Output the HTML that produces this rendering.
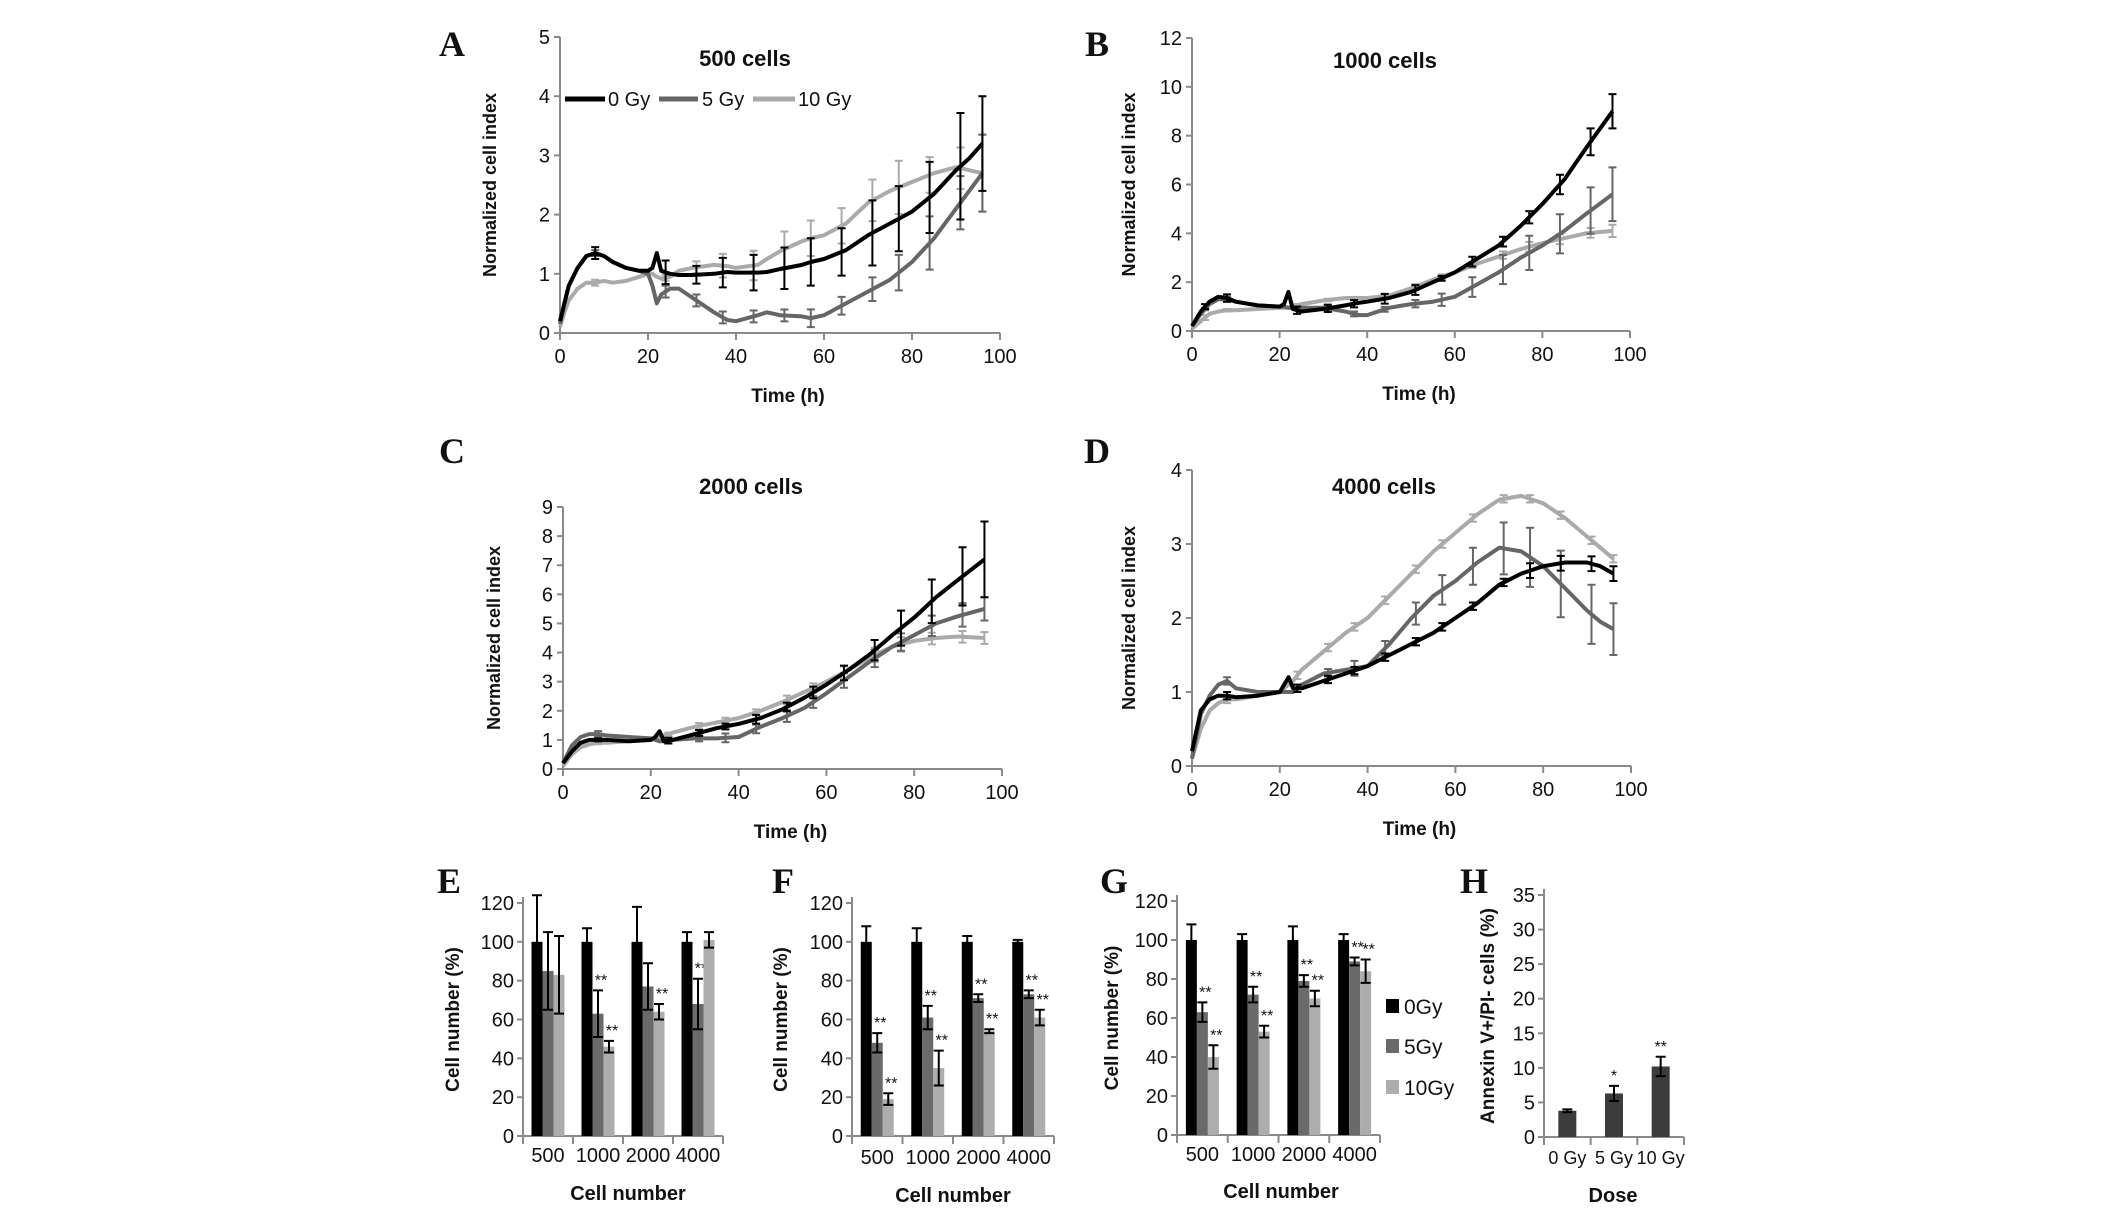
<!DOCTYPE html>
<html><head><meta charset="utf-8"><style>
html,body{margin:0;padding:0;background:#fff}
svg{display:block}
text{font-family:"Liberation Sans",sans-serif}
text.serif{font-family:"Liberation Serif",serif}
</style></head><body>
<svg id="fig" width="2126" height="1209" viewBox="0 0 2126 1209" xmlns="http://www.w3.org/2000/svg"></svg>
<script>
// ---------- data ----------
const seriesNames = ["0 Gy","5 Gy","10 Gy"];
const aTime = [0,1,2,4,6,8,10,12,15,18,20,21,22,23,25,27,30,35,38,40,45,47,50,55,57,60,65,70,75,80,85,90,93,96];
const a0 = [0.2,0.5,0.8,1.1,1.3,1.35,1.3,1.2,1.1,1.05,1.05,1.1,1.35,1.05,1.0,0.98,0.98,1.0,1.03,1.02,1.02,1.03,1.08,1.15,1.2,1.25,1.4,1.65,1.85,2.05,2.35,2.75,2.95,3.2];
const a5 = [0.15,0.5,0.8,1.1,1.3,1.35,1.3,1.2,1.1,1.05,1.0,0.8,0.5,0.65,0.75,0.75,0.6,0.35,0.22,0.2,0.3,0.35,0.3,0.28,0.25,0.3,0.5,0.7,0.9,1.2,1.6,2.1,2.4,2.7];
const a10 = [0.1,0.35,0.55,0.75,0.85,0.85,0.88,0.85,0.88,0.95,1.0,1.0,0.95,0.92,0.95,1.05,1.1,1.15,1.13,1.1,1.15,1.25,1.38,1.55,1.6,1.65,1.85,2.2,2.4,2.55,2.7,2.8,2.75,2.7];
const aErrT = [8,24,31,37,44,51,57,64,71,77,84,91,96];
const aErr0 = [0.1,0.2,0.15,0.25,0.3,0.35,0.4,0.4,0.55,0.55,0.6,0.9,0.8];
const aErr5 = [0.05,0.1,0.1,0.1,0.1,0.1,0.15,0.15,0.2,0.3,0.45,0.45,0.65];
const aErr10 = [0.05,0.05,0.1,0.2,0.25,0.3,0.3,0.3,0.35,0.45,0.3,0.35,0.65];

const bTime = [0,2,4,6,8,10,15,20,21,22,23,25,30,35,38,40,45,50,55,60,65,70,75,80,85,90,96];
const b0 = [0.2,0.8,1.2,1.4,1.35,1.2,1.05,1.0,1.1,1.6,0.9,0.8,0.9,1.05,1.15,1.2,1.35,1.6,2.0,2.4,2.95,3.5,4.3,5.2,6.2,7.5,9.0];
const b5 = [0.2,0.7,1.1,1.3,1.3,1.2,1.05,1.0,1.0,0.95,0.95,0.95,0.95,0.8,0.65,0.65,0.95,1.1,1.2,1.4,1.9,2.4,3.0,3.5,4.1,4.8,5.6];
const b10 = [0.1,0.4,0.7,0.8,0.85,0.85,0.9,0.95,0.95,0.95,1.0,1.1,1.25,1.35,1.35,1.35,1.45,1.75,2.1,2.4,2.75,3.05,3.35,3.6,3.8,4.0,4.1];
const bErrT = [3,8,24,31,37,44,51,57,64,71,77,84,91,96];
const bErr0 = [0.1,0.15,0.15,0.15,0.15,0.2,0.2,0.1,0.2,0.2,0.25,0.4,0.55,0.7];
const bErr5 = [0.05,0.1,0.05,0.1,0.1,0.1,0.15,0.25,0.4,0.6,0.7,0.8,0.95,1.1];
const bErr10 = [0.1,0.05,0.05,0.05,0.05,0.05,0.1,0.1,0.1,0.15,0.2,0.2,0.2,0.25];

const cTime = [0,2,4,6,8,10,15,20,21,22,23,25,30,35,40,45,50,55,60,65,70,75,80,85,90,96];
const c0 = [0.2,0.6,0.9,1.0,1.0,1.0,0.95,1.0,1.1,1.3,0.95,1.0,1.2,1.4,1.55,1.75,2.05,2.45,2.9,3.4,3.95,4.6,5.2,5.9,6.5,7.2];
const c5 = [0.2,0.8,1.1,1.2,1.2,1.15,1.1,1.05,1.0,0.95,0.95,1.0,1.05,1.05,1.1,1.45,1.75,2.1,2.6,3.15,3.7,4.2,4.6,5.0,5.25,5.5];
const c10 = [0.1,0.5,0.75,0.85,0.9,0.9,0.95,1.0,1.05,1.1,1.15,1.25,1.45,1.6,1.75,2.0,2.3,2.65,3.0,3.4,3.85,4.2,4.4,4.5,4.55,4.5];
const cErrT = [8,24,31,37,44,51,57,64,71,77,84,91,96];
const cErr0 = [0.05,0.1,0.1,0.1,0.15,0.15,0.2,0.25,0.35,0.6,0.75,1.0,1.3];
const cErr5 = [0.1,0.1,0.1,0.15,0.15,0.2,0.2,0.25,0.3,0.3,0.35,0.4,0.4];
const cErr10 = [0.05,0.05,0.1,0.1,0.1,0.15,0.15,0.2,0.25,0.25,0.2,0.2,0.2];

const dTime = [0,2,4,6,8,10,15,20,21,22,23,25,30,35,40,45,50,55,60,65,70,75,80,85,90,93,96];
const d0 = [0.2,0.75,0.9,0.95,0.95,0.93,0.95,1.0,1.1,1.2,1.05,1.05,1.15,1.25,1.35,1.5,1.65,1.8,2.0,2.2,2.45,2.6,2.7,2.75,2.75,2.7,2.6];
const d5 = [0.1,0.7,0.95,1.1,1.15,1.05,1.0,1.0,1.0,1.0,1.0,1.1,1.25,1.3,1.35,1.65,2.0,2.3,2.5,2.75,2.95,2.9,2.7,2.4,2.1,1.95,1.85];
const d10 = [0.1,0.5,0.75,0.85,0.9,0.9,0.95,1.0,1.05,1.1,1.15,1.3,1.55,1.8,2.0,2.3,2.6,2.9,3.15,3.4,3.6,3.65,3.55,3.35,3.1,2.95,2.8];
const dErrT = [8,24,31,37,44,51,57,64,71,77,84,91,96];
const dErr0 = [0.05,0.05,0.05,0.05,0.05,0.05,0.05,0.05,0.05,0.1,0.1,0.1,0.1];
const dErr5 = [0.05,0.05,0.05,0.1,0.1,0.15,0.2,0.25,0.35,0.4,0.45,0.4,0.35];
const dErr10 = [0.05,0.05,0.05,0.05,0.05,0.05,0.05,0.05,0.05,0.05,0.05,0.05,0.05];

const barCats = ["500","1000","2000","4000"];
const e0 = [100,100,100,100], e0Err = [24,7,18,5];
const e5 = [85,63,77,68], e5Err = [20,12,12,13];
const e10 = [83,46,64,101], e10Err = [20,3,4,4];
const e5Star = ["","**","","**"], e10Star = ["","**","**",""];
const f0 = [100,100,100,100], f0Err = [8,7,3,1];
const f5 = [48,61,71,73], f5Err = [5,6,2,2];
const f10 = [19,35,54,61], f10Err = [3,9,1,4];
const f5Star = ["**","**","**","**"], f10Star = ["**","**","**","**"];
const g0 = [100,100,100,100], g0Err = [8,3,7,3];
const g5 = [63,72,79,89], g5Err = [5,4,3,2];
const g10 = [40,53,70,84], g10Err = [6,3,4,6];
const g5Star = ["**","**","**","**"], g10Star = ["**","**","**","**"];
const hCats = ["0 Gy","5 Gy","10 Gy"];
const hVals = [3.8,6.3,10.2], hErr = [0.2,1.1,1.4], hStar = ["","*","**"];
const barLegend = ["0Gy","5Gy","10Gy"];

// ---------- helpers ----------
const NS="http://www.w3.org/2000/svg";
const svg=document.getElementById('fig');
const COLORS=["#000000","#666666","#aaaaaa"];
const AX="#8a8a8a";
function mk(tag,attrs,parent){const e=document.createElementNS(NS,tag);for(const k in attrs)e.setAttribute(k,attrs[k]);(parent||svg).appendChild(e);return e;}
function txt(x,y,s,size,opt,parent){opt=opt||{};const t=mk('text',{x:x,y:y,'font-size':size,'text-anchor':opt.anchor||'middle','font-weight':opt.bold?'bold':'normal',fill:opt.fill||'#111'},parent);
if(opt.serif)t.setAttribute('class','serif');
if(opt.rot)t.setAttribute('transform','rotate(-90 '+x+' '+y+')');t.textContent=s;return t;}
function interp(ts,vs,t){for(let i=1;i<ts.length;i++){if(t<=ts[i]){const f=(t-ts[i-1])/(ts[i]-ts[i-1]);return vs[i-1]+f*(vs[i]-vs[i-1]);}}return vs[vs.length-1];}

function linePanel(p){
  const g=mk('g',{});
  
  
  const sx=v=>p.x0+(v-0)/100*(p.x1-p.x0);
  const sy=v=>p.y0-(v/p.ymax)*(p.y0-p.y1);
  const ax=mk('path',{d:`M${p.x0},${p.y1} V${p.y0} H${p.x1}`,stroke:AX,'stroke-width':2,fill:'none'},g);
  
  for(let v=0;v<=p.ymax;v+=p.ystep){
    mk('line',{x1:p.x0-6,x2:p.x0,y1:sy(v),y2:sy(v),stroke:AX,'stroke-width':2},g);
    const t=txt(p.x0-10,sy(v)+7,String(v),20,{anchor:'end'},g);
    
  }
  for(let v=0;v<=100;v+=20){
    mk('line',{x1:sx(v),x2:sx(v),y1:p.y0,y2:p.y0+7,stroke:AX,'stroke-width':2},g);
    const t=txt(sx(v),p.y0+30,String(v),20,{},g);
    
  }
  const yt=txt(p.ytx,(p.y0+p.y1)/2,"Normalized cell index",18,{bold:true,rot:true},g);
  
  const xt=txt((p.x0+p.x1)/2+8,p.xty,"Time (h)",19,{bold:true},g);
  
  const tt=txt(p.titleX,p.titleY,p.title,22,{bold:true},g);
  
  const lt=txt(p.lx,p.ly,p.letter,36,{bold:true,serif:true},g);
  
  for(let s=2;s>=0;s--){
    const vs=p.series[s];
    const d=p.time.map((t,i)=>(i?'L':'M')+sx(t).toFixed(1)+','+sy(vs[i]).toFixed(1)).join(' ');
    const pl=mk('path',{d:d,stroke:COLORS[s],'stroke-width':4,fill:'none','stroke-linejoin':'round'},g);
    
    
    const et=p.errT, ev=p.errs[s];
    et.forEach((t,i)=>{
      const c=interp(p.time,vs,t), x=sx(t);
      const e=mk('path',{d:`M${x},${sy(c+ev[i])} V${sy(c-ev[i])} M${x-4},${sy(c+ev[i])} H${x+4} M${x-4},${sy(c-ev[i])} H${x+4}`,stroke:COLORS[s],'stroke-width':2,fill:'none'},g);
      
    });
  }
  if(p.legend){
    const L=[[565,605,608],[659,698,702],[753,795,798]];
    for(let s=0;s<3;s++){
      const lg=mk('g',{},g);
      
      mk('line',{x1:L[s][0],x2:L[s][1],y1:p.ly2,y2:p.ly2,stroke:COLORS[s],'stroke-width':5},lg);
      txt(L[s][2],p.ly2+7,seriesNames[s],20,{anchor:'start'},lg);
    }
  }
}

linePanel({name:'panel-a-500-cells',letter:'A',lx:452,ly:56,x0:560,x1:1000,y0:333,y1:37,ymax:5,ystep:1,ytx:496,xty:402,title:'500 cells',titleX:745,titleY:66,time:aTime,series:[a0,a5,a10],errT:aErrT,errs:[aErr0,aErr5,aErr10],legend:true,ly2:99});
linePanel({name:'panel-b-1000-cells',letter:'B',lx:1097,ly:56,x0:1192,x1:1630,y0:331,y1:38,ymax:12,ystep:2,ytx:1135,xty:400,title:'1000 cells',titleX:1385,titleY:68,time:bTime,series:[b0,b5,b10],errT:bErrT,errs:[bErr0,bErr5,bErr10]});
linePanel({name:'panel-c-2000-cells',letter:'C',lx:452,ly:463,x0:563,x1:1002,y0:769,y1:507,ymax:9,ystep:1,ytx:500,xty:838,title:'2000 cells',titleX:751,titleY:494,time:cTime,series:[c0,c5,c10],errT:cErrT,errs:[cErr0,cErr5,cErr10]});
linePanel({name:'panel-d-4000-cells',letter:'D',lx:1097,ly:463,x0:1192,x1:1631,y0:766,y1:470,ymax:4,ystep:1,ytx:1135,xty:835,title:'4000 cells',titleX:1384,titleY:494,time:dTime,series:[d0,d5,d10],errT:dErrT,errs:[dErr0,dErr5,dErr10]});

function barPanel(p){
  const g=mk('g',{});
  
  
  const sy=v=>p.y0-(v/p.ymax)*(p.y0-p.y1);
  const n=p.cats.length, cw=(p.x1-p.x0)/n;
  const ax=mk('path',{d:`M${p.x0},${p.y1-6} V${p.y0} H${p.x1}`,stroke:AX,'stroke-width':2,fill:'none'},g);
  
  for(let v=0;v<=p.ymax;v+=p.ystep){
    mk('line',{x1:p.x0-6,x2:p.x0,y1:sy(v),y2:sy(v),stroke:AX,'stroke-width':2},g);
    const t=txt(p.x0-9,sy(v)+7,String(v),20,{anchor:'end'},g);
    
  }
  for(let i=0;i<=n;i++) mk('line',{x1:p.x0+i*cw,x2:p.x0+i*cw,y1:p.y0,y2:p.y0+8,stroke:AX,'stroke-width':2},g);
  p.cats.forEach((c,i)=>{const t=txt(p.x0+(i+0.5)*cw,p.y0+p.tickDy,c,p.tickSize,{},g);
    });
  const ns=p.series.length;
  p.series.forEach((vals,s)=>{
    vals.forEach((v,i)=>{
      const x=p.x0+i*cw+(cw-ns*p.bw)/2+s*p.bw;
      const r=mk('rect',{x:x,y:sy(v),width:p.bw,height:p.y0-sy(v),fill:p.colors[s]},g);
      
      
      const e=p.errs[s][i], cx=x+p.bw/2;
      const eb=mk('path',{d:`M${cx},${sy(v+e)} V${sy(v-e)} M${cx-5},${sy(v+e)} H${cx+5} M${cx-5},${sy(v-e)} H${cx+5}`,stroke:'#000','stroke-width':2,fill:'none'},g);
      
      const st=p.stars[s]?p.stars[s][i]:'';
      if(st){const t=txt(cx+(ns>1?3:0),sy(v+e)-5,st,16,{},g);
        }
    });
  });
  const yt=txt(p.ytx,(p.y0+p.y1)/2,p.ytitle,19,{bold:true,rot:true},g);
  
  const xt=txt(p.xtx,p.xty,p.xtitle,20,{bold:true},g);
  
  const lt=txt(p.lx,p.ly,p.letter,36,{bold:true,serif:true},g);
  
}
const BC=["#000000","#6a6a6a","#adadad"];
barPanel({name:'panel-e',letter:'E',lx:449,ly:893,x0:523,x1:723,y0:1136,y1:903,ymax:120,ystep:20,cats:barCats,series:[e0,e5,e10],errs:[e0Err,e5Err,e10Err],stars:[null,e5Star,e10Star],bw:11,colors:BC,ytitle:'Cell number (%)',ytx:459,xtitle:'Cell number',xtx:628,xty:1200,tickDy:26,tickSize:20});
barPanel({name:'panel-f',letter:'F',lx:783,ly:893,x0:852,x1:1054,y0:1136,y1:903,ymax:120,ystep:20,cats:barCats,series:[f0,f5,f10],errs:[f0Err,f5Err,f10Err],stars:[null,f5Star,f10Star],bw:11,colors:BC,ytitle:'Cell number (%)',ytx:787,xtitle:'Cell number',xtx:953,xty:1202,tickDy:28,tickSize:20});
barPanel({name:'panel-g',letter:'G',lx:1114,ly:893,x0:1177,x1:1380,y0:1135,y1:901,ymax:120,ystep:20,cats:barCats,series:[g0,g5,g10],errs:[g0Err,g5Err,g10Err],stars:[null,g5Star,g10Star],bw:11,colors:BC,ytitle:'Cell number (%)',ytx:1118,xtitle:'Cell number',xtx:1281,xty:1198,tickDy:26,tickSize:20});
barPanel({name:'panel-h',letter:'H',lx:1474,ly:893,x0:1544,x1:1684,y0:1137,y1:895,ymax:35,ystep:5,cats:hCats,series:[hVals],errs:[hErr],stars:[hStar],bw:18,colors:["#3c3c3c"],ytitle:'Annexin V+/PI- cells (%)',ytx:1494,xtitle:'Dose',xtx:1613,xty:1202,tickDy:27,tickSize:18});

for(let s=0;s<3;s++){
  const lg=mk('g',{});
  
  
  const y=[1006,1046,1087][s];
  mk('rect',{x:1386,y:y-7,width:13,height:14,fill:BC[s]},lg);
  txt(1404,y+8,barLegend[s],21,{anchor:'start'},lg);
}
</script>
</body></html>
